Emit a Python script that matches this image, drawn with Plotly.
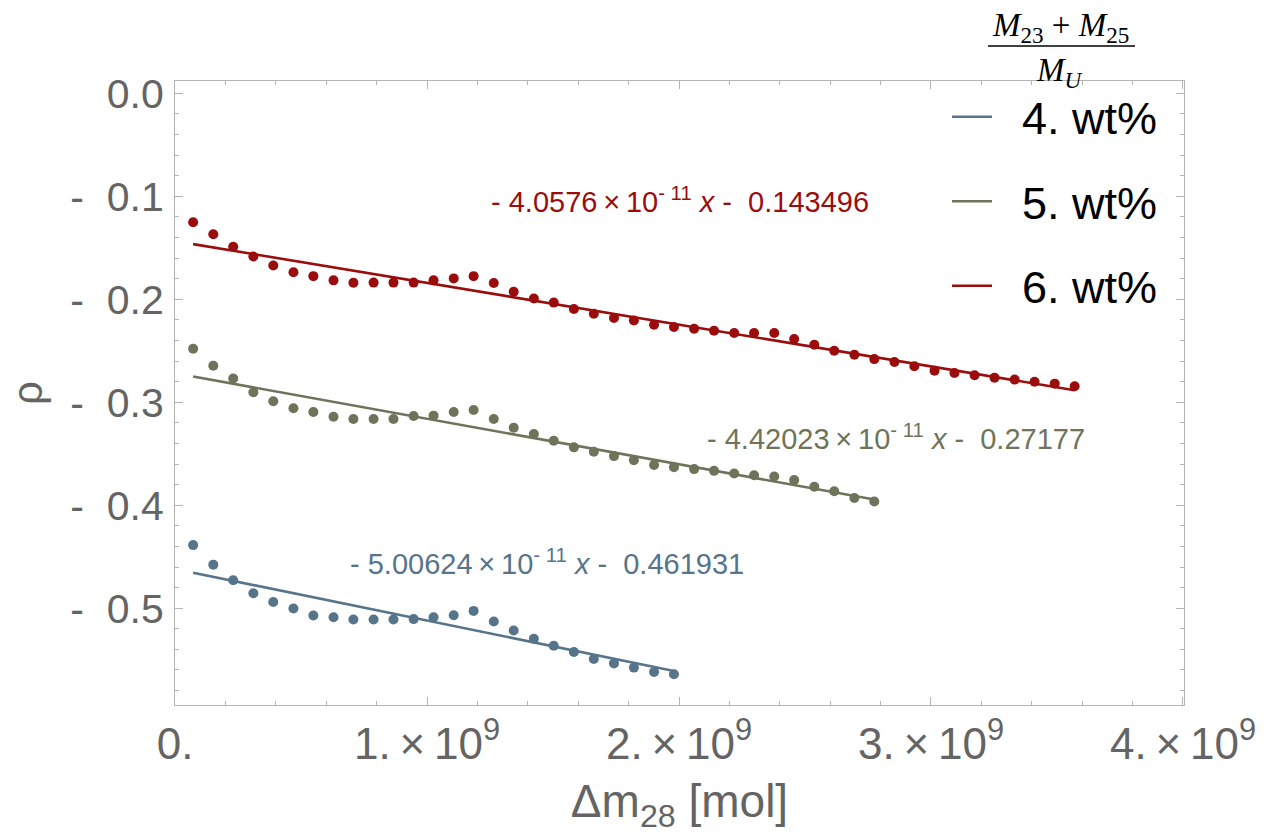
import plotly.graph_objects as go

# ---- data (x in units of 1e9 mol) ----
DM28_E9 = [0.072, 0.152, 0.231, 0.311, 0.390, 0.470, 0.549, 0.629, 0.708, 0.788,
           0.867, 0.947, 1.026, 1.106, 1.185, 1.265, 1.344, 1.424, 1.503, 1.583,
           1.662, 1.742, 1.821, 1.901, 1.980, 2.060, 2.139, 2.219, 2.298, 2.378,
           2.457, 2.537, 2.616, 2.696, 2.775, 2.855, 2.934, 3.014, 3.093, 3.173,
           3.252, 3.332, 3.411, 3.491, 3.570]

RHO_4 = [-0.4387, -0.4577, -0.4729, -0.4855, -0.4939, -0.5003, -0.5071, -0.5087, -0.5110, -0.5110,
         -0.5110, -0.5106, -0.5087, -0.5068, -0.5026, -0.5129, -0.5216, -0.5297, -0.5365, -0.5426,
         -0.5494, -0.5536, -0.5577, -0.5619, -0.5642]

RHO_5 = [-0.2481, -0.2646, -0.2769, -0.2903, -0.2990, -0.3058, -0.3094, -0.3140, -0.3162, -0.3162,
         -0.3162, -0.3133, -0.3130, -0.3094, -0.3075, -0.3162, -0.3247, -0.3308, -0.3373, -0.3438,
         -0.3481, -0.3523, -0.3562, -0.3610, -0.3630, -0.3649, -0.3666, -0.3692, -0.3708, -0.3721,
         -0.3756, -0.3821, -0.3864, -0.3929, -0.3964]

RHO_6 = [-0.1252, -0.1369, -0.1490, -0.1585, -0.1672, -0.1737, -0.1775, -0.1816, -0.1840, -0.1838,
         -0.1838, -0.1838, -0.1816, -0.1797, -0.1775, -0.1841, -0.1927, -0.1993, -0.2032, -0.2094,
         -0.2140, -0.2182, -0.2205, -0.2247, -0.2269, -0.2286, -0.2305, -0.2328, -0.2328, -0.2328,
         -0.2386, -0.2442, -0.2500, -0.2539, -0.2581, -0.2609, -0.2651, -0.2693, -0.2715, -0.2738,
         -0.2761, -0.2780, -0.2800, -0.2819, -0.2845]

SERIES_NAMES = ["4. wt%", "5. wt%", "6. wt%"]
SERIES_COLORS = ["#56748a", "#6e7459", "#9b0d0d"]
SLOPES = [-5.00624e-11, -4.42023e-11, -4.0576e-11]
INTERCEPTS = [-0.461931, -0.27177, -0.143496]
FIT_LABELS = [
    "- 5.00624\u2009×\u200910<sup>- 11</sup> <i>x</i> -  0.461931",
    "- 4.42023\u2009×\u200910<sup>- 11</sup> <i>x</i> -  0.27177",
    "- 4.0576\u2009×\u200910<sup>- 11</sup> <i>x</i> -  0.143496",
]
FIT_LABEL_POS = [(1.478e9, -0.4548), (2.861e9, -0.3337), (2.004e9, -0.1036)]

Y_TICKS = [0.0, -0.1, -0.2, -0.3, -0.4, -0.5]
Y_TICK_TEXT = ["0.0", "-\u00a0\u00a00.1", "-\u00a0\u00a00.2", "-\u00a0\u00a00.3", "-\u00a0\u00a00.4", "-\u00a0\u00a00.5"]
X_TICKS = [0, 1e9, 2e9, 3e9, 4e9]
X_TICK_TEXT = ["0.", "1.\u2009×\u200910<sup>9</sup>", "2.\u2009×\u200910<sup>9</sup>",
               "3.\u2009×\u200910<sup>9</sup>", "4.\u2009×\u200910<sup>9</sup>"]

FONT = "Liberation Sans, Arial, sans-serif"
GRAY = "#646464"
FRAME = "#b4b4b4"

fig = go.Figure()
rho_all = [RHO_4, RHO_5, RHO_6]
for i, rho in enumerate(rho_all):
    xs = [v * 1e9 for v in DM28_E9[:len(rho)]]
    fig.add_trace(go.Scatter(
        x=xs, y=rho, mode="markers",
        marker=dict(color=SERIES_COLORS[i], size=10),
        showlegend=False, hoverinfo="skip",
    ))
    x_end = [xs[0], xs[-1]]
    y_end = [SLOPES[i] * v + INTERCEPTS[i] for v in x_end]
    fig.add_trace(go.Scatter(
        x=x_end, y=y_end, mode="lines",
        line=dict(color=SERIES_COLORS[i], width=2.6),
        name="\u00a0\u00a0" + SERIES_NAMES[i], legendgroup=SERIES_NAMES[i],
    ))
    fig.add_annotation(
        x=FIT_LABEL_POS[i][0], y=FIT_LABEL_POS[i][1], xref="x", yref="y",
        text=FIT_LABELS[i], showarrow=False, xanchor="center", yanchor="middle",
        font=dict(family=FONT, size=29, color=SERIES_COLORS[i]),
    )

# legend title: fraction (M23 + M25) / M_U
PX = lambda p: (p - 175) / 1009
PY = lambda p: (705 - p) / 624
fig.add_annotation(x=PX(1060), y=PY(27), xref="paper", yref="paper",
                   xanchor="center", yanchor="middle",
                   text="<i>M</i><sub>23</sub> + <i>M</i><sub>25</sub>", showarrow=False,
                   font=dict(family="Liberation Serif, serif", size=33, color="black"))
fig.add_annotation(x=PX(1059), y=PY(72), xref="paper", yref="paper",
                   xanchor="center", yanchor="middle",
                   text="<i>M</i><sub><i>U</i></sub>", showarrow=False,
                   font=dict(family="Liberation Serif, serif", size=33, color="black"))
fig.add_shape(type="line", xref="paper", yref="paper",
              x0=PX(988), x1=PX(1135), y0=PY(46), y1=PY(46),
              line=dict(color="black", width=1.5))

fig.update_layout(
    width=1281, height=836,
    margin=dict(l=175, r=97, t=81, b=131),
    paper_bgcolor="white", plot_bgcolor="white",
    font=dict(family=FONT, color=GRAY),
    legend=dict(
        x=PX(947), y=PY(81), xanchor="left", yanchor="top",
        font=dict(family=FONT, size=45, color="black"),
        bgcolor="rgba(0,0,0,0)", tracegroupgap=23, itemwidth=40,
    ),
    xaxis=dict(
        range=[0, 4.004e9], showgrid=False, zeroline=False,
        showline=True, linecolor=FRAME, linewidth=1, mirror="ticks",
        ticks="inside", ticklen=8, tickcolor=FRAME,
        tickmode="array", tickvals=X_TICKS, ticktext=X_TICK_TEXT,
        tickfont=dict(size=44, color=GRAY), ticklabelstandoff=0,
        minor=dict(ticks="inside", ticklen=4, tickcolor=FRAME, tickmode="linear", tick0=0, dtick=0.2e9),
        title=dict(text="Δm<sub>28</sub> [mol]", font=dict(size=46, color=GRAY), standoff=18),
    ),
    yaxis=dict(
        range=[-0.594, 0.012], showgrid=False, zeroline=False,
        showline=True, linecolor=FRAME, linewidth=1, mirror="ticks",
        ticks="inside", ticklen=8, tickcolor=FRAME,
        tickmode="array", tickvals=Y_TICKS, ticktext=Y_TICK_TEXT,
        tickfont=dict(size=41, color=GRAY), ticklabelstandoff=2,
        minor=dict(ticks="inside", ticklen=4, tickcolor=FRAME, tickmode="linear", tick0=0, dtick=0.02),
        title=dict(text="ρ", font=dict(size=42, color=GRAY), standoff=14),
    ),
)

fig.write_html("out.html")
